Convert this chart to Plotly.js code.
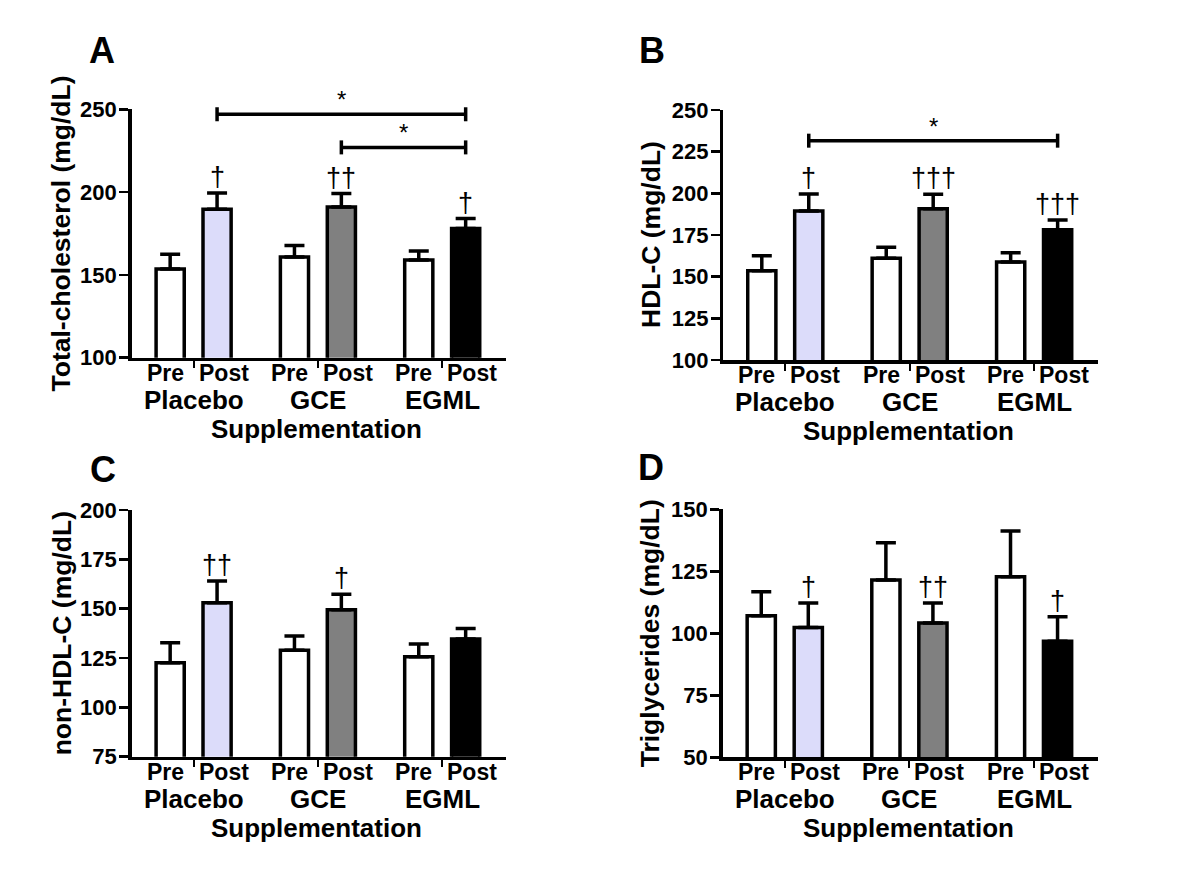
<!DOCTYPE html>
<html>
<head>
<meta charset="utf-8">
<script src="https://cdn.plot.ly/plotly-3.0.1.min.js"></script>
<style>html,body{margin:0;padding:0;background:#fff;}#chart{width:1200px;height:886px;}</style>
</head>
<body>
<div id="chart"></div>
<script>
// ---------------- DATA ----------------
const groups = ['Placebo', 'GCE', 'EGML'];
const phases = ['Pre', 'Post'];
const xTitle = 'Supplementation';

const totalCholMean = [153.6, 189.7, 160.8, 191.0, 159.0, 178.0];
const totalCholSem  = [8.9, 9.8, 6.9, 8.1, 5.5, 6.0];
const totalCholMarks = ['', '†', '', '††', '', '†'];

const hdlMean = [153.6, 189.4, 161.0, 190.8, 158.8, 178.2];
const hdlSem  = [9.0, 10.2, 6.6, 8.6, 5.6, 5.8];
const hdlMarks = ['', '†', '', '†††', '', '†††'];

const nonHdlMean = [122.6, 153.0, 129.0, 149.4, 125.7, 134.7];
const nonHdlSem  = [10.2, 11.0, 7.2, 7.9, 6.4, 5.3];
const nonHdlMarks = ['', '††', '', '†', '', ''];

const tgMean = [107.1, 102.3, 121.5, 104.2, 122.8, 96.8];
const tgSem  = [9.7, 9.9, 15.0, 8.0, 18.4, 9.9];
const tgMarks = ['', '†', '', '††', '', '†'];

// significance brackets: bar index from / to, level (mg/dL)
const totalCholBrFrom = [1, 3];
const totalCholBrTo   = [5, 5];
const totalCholBrLevel = [247, 227];
const hdlBrFrom = [1];
const hdlBrTo   = [5];
const hdlBrLevel = [231.6];

// ---------------- STYLE / LAYOUT ----------------
const FONT = 'Liberation Sans, Arial, Helvetica, sans-serif';
const W = 1200, H = 886;
const barColors = ['#ffffff', '#dcdcfa', '#ffffff', '#808080', '#ffffff', '#000000'];
const groupStep = 2.65;
const xRange = [-0.82, 7.16];

const panels = [
  {letter: 'A', title: 'Total-cholesterol (mg/dL)', mean: totalCholMean, sem: totalCholSem, marks: totalCholMarks,
   range: [100, 250], dtick: 50, box: {x0: 131.7, x1: 506, y0: 109.3, y1: 357.7},
   letterPos: [102, 50], titleX: 60, brFrom: totalCholBrFrom, brTo: totalCholBrTo, brLevel: totalCholBrLevel},
  {letter: 'B', title: 'HDL-C (mg/dL)', mean: hdlMean, sem: hdlSem, marks: hdlMarks,
   range: [100, 250], dtick: 25, box: {x0: 723.3, x1: 1098, y0: 110, y1: 360},
   letterPos: [652, 50], titleX: 651, brFrom: hdlBrFrom, brTo: hdlBrTo, brLevel: hdlBrLevel},
  {letter: 'C', title: 'non-HDL-C (mg/dL)', mean: nonHdlMean, sem: nonHdlSem, marks: nonHdlMarks,
   range: [75, 200], dtick: 25, box: {x0: 131.7, x1: 506, y0: 510, y1: 756.7},
   letterPos: [103, 469], titleX: 62, brFrom: [], brTo: [], brLevel: []},
  {letter: 'D', title: 'Triglycerides (mg/dL)', mean: tgMean, sem: tgSem, marks: tgMarks,
   range: [50, 150], dtick: 25, box: {x0: 722.7, x1: 1098, y0: 509.3, y1: 757.3},
   letterPos: [651, 467], titleX: 650, brFrom: [], brTo: [], brLevel: []}
];

const xPos = [];
const phaseOf = [];
groups.forEach((g, gi) => phases.forEach((p, pi) => { xPos.push(gi * groupStep + pi); phaseOf.push(pi); }));
const groupMid = groups.map((g, gi) => gi * groupStep + 0.5);

const traces = [];
const layout = {
  width: W, height: H,
  margin: {l: 0, r: 0, t: 0, b: 0},
  paper_bgcolor: '#ffffff', plot_bgcolor: '#ffffff',
  showlegend: false,
  font: {family: FONT, color: '#000000'},
  annotations: [], shapes: []
};
const boldFont = s => ({family: FONT, size: s, weight: 'bold', color: '#000000'});

panels.forEach((P, i) => {
  const n = i === 0 ? '' : String(i + 1);
  const xa = 'x' + n, ya = 'y' + n;
  const dx = [P.box.x0 / W, P.box.x1 / W];
  const dy = [1 - P.box.y1 / H, 1 - P.box.y0 / H];
  const toPaperY = v => dy[0] + (v - P.range[0]) / (P.range[1] - P.range[0]) * (dy[1] - dy[0]);

  traces.push({
    type: 'bar', x: xPos, y: P.mean, xaxis: xa, yaxis: ya, width: 0.6,
    marker: {color: barColors, line: {color: '#000000', width: 3.5}},
    error_y: {type: 'data', symmetric: false, array: P.sem, arrayminus: P.sem.map(() => 0),
              color: '#000000', thickness: 3.5, width: 10},
    hoverinfo: 'skip'
  });

  layout['xaxis' + n] = {
    domain: dx, range: xRange, anchor: ya, fixedrange: true,
    showline: true, linecolor: '#000000', linewidth: 3.5, showgrid: false, zeroline: false,
    tickmode: 'array', tickvals: groupMid, ticktext: groupMid.map(() => ''),
    ticks: 'outside', ticklen: 7, tickwidth: 2, tickcolor: '#000000'
  };
  layout['yaxis' + n] = {
    domain: dy, range: P.range, anchor: xa, fixedrange: true,
    showline: true, linecolor: '#000000', linewidth: 3.5, showgrid: false, zeroline: false,
    tickmode: 'linear', tick0: P.range[0], dtick: P.dtick,
    ticks: 'outside', ticklen: 9, tickwidth: 2.5, tickcolor: '#000000',
    tickfont: boldFont(22), ticklabelstandoff: -2
  };

  // Pre / Post labels
  xPos.forEach((x, k) => {
    const pre = phaseOf[k] === 0;
    layout.annotations.push({
      xref: xa, yref: 'paper', x: groupMid[Math.floor(k / 2)], y: dy[0] - 15 / H,
      xanchor: pre ? 'right' : 'left', yanchor: 'middle', xshift: pre ? -8 : 3,
      text: phases[phaseOf[k]], showarrow: false, font: boldFont(23)
    });
  });
  // group labels
  groups.forEach((g, gi) => layout.annotations.push({
    xref: xa, yref: 'paper', x: groupMid[gi], y: dy[0] - 42 / H, yanchor: 'middle', xanchor: 'center',
    text: g, showarrow: false, font: boldFont(26)
  }));
  // x title
  layout.annotations.push({
    xref: 'paper', yref: 'paper', x: (dx[0] + dx[1]) / 2 - 2 / W, y: dy[0] - 71 / H, yanchor: 'middle', xanchor: 'center',
    text: xTitle, showarrow: false, font: boldFont(26)
  });
  // y title
  layout.annotations.push({
    xref: 'paper', yref: 'paper', x: P.titleX / W, y: (dy[0] + dy[1]) / 2, xanchor: 'center', yanchor: 'middle',
    textangle: -90, text: P.title, showarrow: false, font: boldFont(26.5)
  });
  // panel letter
  layout.annotations.push({
    xref: 'paper', yref: 'paper', x: P.letterPos[0] / W, y: 1 - P.letterPos[1] / H, xanchor: 'center', yanchor: 'middle',
    text: P.letter, showarrow: false, font: boldFont(36)
  });
  // daggers
  P.marks.forEach((m, k) => {
    if (!m) return;
    layout.annotations.push({
      xref: xa, yref: ya, x: xPos[k], y: P.mean[k] + P.sem[k], xanchor: 'center', yanchor: 'bottom', yshift: -1,
      text: m, showarrow: false, font: {family: FONT, size: 27, color: '#000000'}
    });
  });
  // brackets
  P.brFrom.forEach((f, b) => {
    const x0 = xPos[f], x1 = xPos[P.brTo[b]], yp = toPaperY(P.brLevel[b]);
    const half = 7 / H;
    const line = {color: '#000000', width: 3.5};
    layout.shapes.push({type: 'line', xref: xa, yref: 'paper', x0: x0, x1: x1, y0: yp, y1: yp, line: line});
    layout.shapes.push({type: 'line', xref: xa, yref: 'paper', x0: x0, x1: x0, y0: yp - half, y1: yp + half, line: line});
    layout.shapes.push({type: 'line', xref: xa, yref: 'paper', x0: x1, x1: x1, y0: yp - half, y1: yp + half, line: line});
    layout.annotations.push({
      xref: xa, yref: ya, x: (x0 + x1) / 2, y: P.brLevel[b], xanchor: 'center', yanchor: 'bottom', yshift: -1,
      text: '*', showarrow: false, font: {family: FONT, size: 24, color: '#000000'}
    });
  });
});

Plotly.newPlot('chart', traces, layout, {staticPlot: true, displayModeBar: false});
</script>
</body>
</html>
